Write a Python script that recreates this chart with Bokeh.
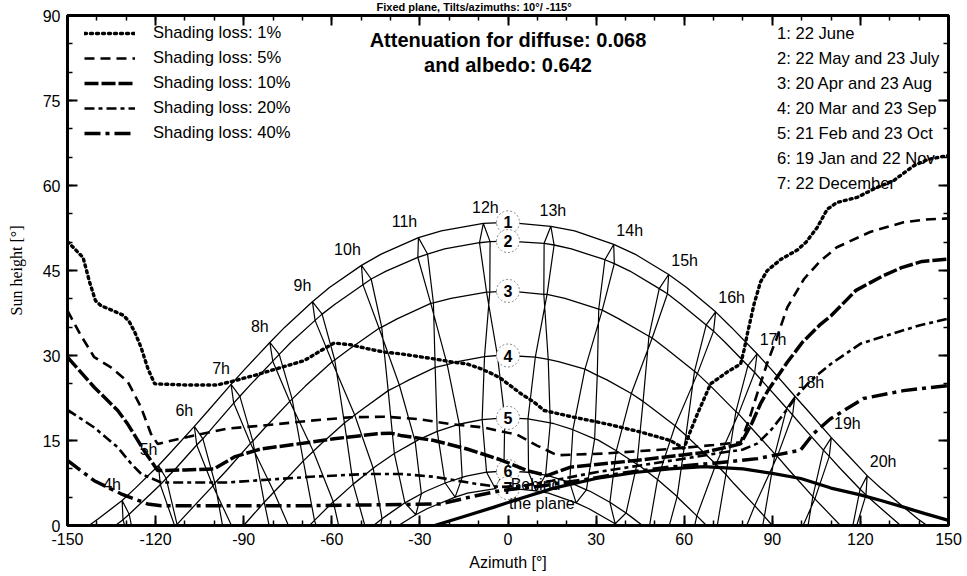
from bokeh.plotting import figure
from bokeh.models import (LinearAxis, Label, Legend, LegendItem, Range1d,
                          FixedTicker, ColumnDataSource)
from bokeh.core.properties import value
from bokeh.embed import file_html
from bokeh.resources import INLINE

FONT = "Liberation Sans"
SERIF = "Liberation Serif"

TITLE = "Fixed plane, Tilts/azimuths: 10°/ -115°"
DIFFUSE = 0.068
ALBEDO = 0.642

X_TICKS = [-150, -120, -90, -60, -30, 0, 30, 60, 90, 120, 150]
X_TICK_LABELS = ["-150", "-120", "-90", "-60", "-30", "0", "30", "60", "90", "120", "150"]
Y_TICKS = [0, 15, 30, 45, 60, 75, 90]
Y_TICK_LABELS = ["0", "15", "30", "45", "60", "75", "90"]

HOURS = list(range(4, 21))
HOUR_LABELS = ["%dh" % h for h in HOURS]

# sun position at each legal hour (4h ... 20h) on each date: azimuth [deg], height [deg]
JUN_AZ = [-131.4, -119.0, -106.8, -94.3, -81.1, -66.6, -49.9, -30.5, -8.4, 14.6, 36.0, 54.7, 70.7, 84.8, 97.7, 110.1, 122.3]
JUN_H = [4.4, 10.6, 17.5, 24.9, 32.3, 39.5, 45.9, 50.8, 53.3, 52.8, 49.6, 44.3, 37.7, 30.3, 22.8, 15.5, 8.8]
MAY_AZ = [-129.0, -116.4, -103.9, -91.3, -77.9, -63.3, -46.6, -27.4, -6.1, 15.7, 36.2, 54.3, 70.0, 84.0, 96.9, 109.4, 121.9]
MAY_H = [2.0, 8.3, 15.3, 22.8, 30.2, 37.3, 43.5, 47.9, 50.1, 49.5, 46.2, 40.9, 34.3, 27.0, 19.5, 12.2, 5.4]
JUL_AZ = [-131.1, -118.4, -106.0, -93.4, -80.1, -65.7, -49.4, -30.7, -9.7, 12.3, 33.0, 51.5, 67.5, 81.7, 94.9, 107.4, 119.9]
JUL_H = [1.0, 7.2, 14.2, 21.6, 29.0, 36.2, 42.5, 47.3, 49.9, 49.8, 46.9, 41.8, 35.4, 28.2, 20.7, 13.3, 6.4]
APR_AZ = [-125.8, -112.7, -99.8, -86.9, -73.5, -59.0, -43.0, -25.4, -6.2, 13.3, 32.1, 49.1, 64.5, 78.5, 91.7, 104.5, 117.4]
APR_H = [-6.3, 0.2, 7.5, 14.9, 22.3, 29.2, 35.0, 39.3, 41.2, 40.8, 38.0, 33.1, 26.8, 19.7, 12.2, 4.7, -2.3]
AUG_AZ = [-126.6, -113.4, -100.5, -87.7, -74.3, -59.9, -43.9, -26.3, -7.3, 12.2, 30.9, 48.0, 63.5, 77.6, 90.9, 103.8, 116.7]
AUG_H = [-6.7, -0.2, 7.0, 14.5, 21.9, 28.9, 34.8, 39.2, 41.2, 40.8, 38.2, 33.4, 27.2, 20.1, 12.6, 5.1, -1.9]
MAR_AZ = [-123.0, -109.1, -96.0, -83.0, -69.7, -55.7, -40.8, -24.8, -8.0, 9.3, 26.2, 42.0, 56.9, 70.8, 84.0, 97.0, 110.2]
MAR_H = [-17.6, -10.8, -3.5, 4.1, 11.4, 18.1, 23.8, 27.9, 29.8, 29.7, 27.6, 23.3, 17.6, 10.8, 3.5, -4.1, -11.4]
SEP_AZ = [-119.4, -105.8, -92.7, -79.7, -66.3, -52.2, -37.0, -20.7, -3.6, 13.7, 30.4, 46.0, 60.6, 74.2, 87.3, 100.3, 113.7]
SEP_H = [-15.9, -9.0, -1.6, 5.9, 13.1, 19.5, 24.8, 28.4, 30.0, 29.3, 26.5, 21.9, 15.9, 9.0, 1.6, -5.9, -13.1]
FEB_AZ = [-119.4, -105.1, -91.7, -78.8, -65.9, -52.7, -38.7, -24.1, -8.8, 6.8, 22.1, 36.9, 50.9, 64.3, 77.2, 90.1, 103.4]
FEB_H = [-28.1, -21.1, -13.7, -6.3, 0.9, 7.3, 12.7, 16.6, 18.7, 18.8, 16.9, 13.2, 8.1, 1.7, -5.3, -12.8, -20.2]
OCT_AZ = [-112.2, -98.4, -85.4, -72.5, -59.5, -45.9, -31.6, -16.6, -1.1, 14.4, 29.5, 43.9, 57.6, 70.7, 83.6, 96.6, 110.2]
OCT_H = [-24.7, -17.5, -10.0, -2.7, 4.2, 10.1, 14.8, 17.9, 19.0, 18.1, 15.3, 10.8, 5.1, -1.7, -9.0, -16.5, -23.8]
JAN_AZ = [-113.5, -99.1, -85.9, -73.4, -60.9, -48.2, -35.1, -21.4, -7.3, 7.0, 21.0, 34.7, 47.9, 60.6, 73.1, 85.6, 98.8]
JAN_H = [-36.0, -28.9, -21.4, -14.0, -7.1, -1.0, 4.0, 7.5, 9.4, 9.4, 7.6, 4.1, -0.9, -7.0, -13.9, -21.2, -28.7]
NOV_AZ = [-107.4, -93.6, -80.7, -68.2, -55.7, -42.9, -29.5, -15.6, -1.4, 12.8, 26.7, 40.2, 53.2, 65.8, 78.2, 91.0, 104.5]
NOV_H = [-33.1, -25.8, -18.3, -11.1, -4.5, 1.2, 5.6, 8.5, 9.6, 8.9, 6.3, 2.2, -3.3, -9.7, -16.8, -24.3, -31.7]
DEC_AZ = [-108.5, -94.5, -81.6, -69.2, -56.9, -44.4, -31.4, -18.0, -4.3, 9.6, 23.2, 36.5, 49.3, 61.7, 74.0, 86.5, 99.7]
DEC_H = [-37.2, -29.9, -22.4, -15.2, -8.5, -2.7, 1.9, 5.0, 6.5, 6.1, 4.0, 0.3, -4.8, -11.0, -17.9, -25.3, -32.8]

# extra sun-path points of the 7 date curves (between the hour marks)
PATH1_AZ = [-142.7, -139.5, -126.9, -114.5, -102.2, -89.6, -76.0, -60.8, -43.2, -22.7, 0.0, 22.7, 43.2, 60.8, 76.0, 89.6, 102.2, 114.5, 126.9, 139.5, 142.7]
PATH1_H = [0.0, 1.2, 6.6, 13.1, 20.2, 27.6, 35.0, 42.0, 47.9, 52.0, 53.5, 52.0, 47.9, 42.0, 35.0, 27.6, 20.2, 13.1, 6.6, 1.2, 0.0]
PATH2_AZ = [-138.4, -133.7, -125.5, -112.9, -100.4, -87.6, -74.0, -58.8, -41.5, -21.6, 0.0, 21.6, 41.5, 58.8, 74.0, 87.6, 100.4, 112.9, 125.5, 133.7, 138.4]
PATH2_H = [-1.9, 0.0, 3.7, 10.2, 17.4, 24.9, 32.3, 39.1, 44.9, 48.8, 50.2, 48.8, 44.9, 39.1, 32.3, 24.9, 17.4, 10.2, 3.7, 0.0, -1.9]
PATH3_AZ = [-121.6, -113.2, -108.6, -95.7, -82.7, -69.0, -54.1, -37.6, -19.4, 0.0, 19.4, 37.6, 54.1, 69.0, 82.7, 95.7, 108.6, 113.2, 121.6]
PATH3_H = [-4.3, 0.0, 2.5, 9.8, 17.3, 24.6, 31.1, 36.5, 40.1, 41.4, 40.1, 36.5, 31.1, 24.6, 17.3, 9.8, 2.5, 0.0, -4.3]
PATH4_AZ = [-116.6, -103.1, -90.0, -76.9, -63.4, -49.1, -33.7, -17.2, 0.0, 17.2, 33.7, 49.1, 63.4, 76.9, 90.0, 103.1, 116.6]
PATH4_H = [-14.5, -7.4, 0.0, 7.4, 14.5, 20.7, 25.7, 28.9, 30.0, 28.9, 25.7, 20.7, 14.5, 7.4, 0.0, -7.4, -14.5]
PATH5_AZ = [-84.5, -71.6, -67.6, -58.5, -44.9, -30.6, -15.5, 0.0, 15.5, 30.6, 44.9, 58.5, 67.6, 71.6, 84.5]
PATH5_H = [-9.5, -2.2, 0.0, 4.6, 10.5, 15.1, 18.0, 19.0, 18.0, 15.1, 10.5, 4.6, 0.0, -2.2, -9.5]
PATH6_AZ = [-67.0, -54.5, -45.8, -41.5, -28.1, -14.2, 0.0, 14.2, 28.1, 41.5, 45.8, 54.5, 67.0]
PATH6_H = [-10.4, -3.9, 0.0, 1.7, 6.0, 8.7, 9.6, 8.7, 6.0, 1.7, 0.0, -3.9, -10.4]
PATH7_AZ = [-53.1, -40.5, -37.3, -27.4, -13.8, 0.0, 13.8, 27.4, 37.3, 40.5, 53.1]
PATH7_H = [-6.6, -1.2, 0.0, 3.0, 5.7, 6.6, 5.7, 3.0, 0.0, -1.2, -6.6]

DATE_NUMBERS = ["1", "2", "3", "4", "5", "6", "7"]
DATE_LABELS = ["1: 22 June", "2: 22 May and 23 July", "3: 20 Apr and 23 Aug",
               "4: 20 Mar and 23 Sep", "5: 21 Feb and 23 Oct", "6: 19 Jan and 22 Nov",
               "7: 22 December"]

# iso-shading curves
ISO_LABELS = ["Shading loss: 1%", "Shading loss: 5%", "Shading loss: 10%",
              "Shading loss: 20%", "Shading loss: 40%"]
ISO1_AZ = [-150, -144.7, -142.5, -140.5, -138.6, -134.5, -131.0, -129.0, -127.0, -125.0, -122.5, -120.3, -110, -99, -94.2, -86.3, -78.5, -69.4, -62.6, -59.2, -53.6, -47.9, -42.2, -36.6, -25.2, -19.5, -13.9, -9.4, -5.5, -2.6, 1.0, 4.3, 8.8, 12.3, 22.5, 33.8, 45.1, 55.3, 59.9, 62.0, 64.5, 69.0, 74.7, 79.2, 80.4, 81.5, 83.8, 86.0, 88.3, 93.0, 98.5, 101.5, 105.3, 108.7, 112.0, 118.9, 125.0, 131.4, 138.2, 143.0, 150]
ISO1_H = [50.1, 47.3, 43.0, 39.7, 38.8, 37.9, 37.1, 36.0, 34.0, 31.5, 27.5, 25.0, 24.8, 24.8, 25.4, 26.5, 27.7, 29.1, 31.2, 32.2, 31.9, 31.2, 30.6, 30.3, 29.4, 28.9, 28.5, 27.7, 26.8, 26.0, 24.6, 23.3, 21.8, 20.3, 19.1, 17.9, 16.5, 15.0, 13.6, 16.5, 19.7, 25.0, 27.1, 28.5, 31.0, 33.8, 39.1, 43.0, 45.0, 47.0, 48.6, 50.0, 52.6, 55.8, 57.0, 57.9, 59.5, 60.9, 63.5, 64.6, 65.3]
ISO5_AZ = [-150, -145.4, -140.9, -135.2, -129.5, -125.0, -121.6, -119.3, -106.9, -95.5, -84.2, -67.2, -53.6, -42.2, -30.9, -19.6, -8.3, 3.2, 9.9, 16.7, 32.6, 55.3, 70.0, 79.2, 82.0, 85.0, 88.5, 91.6, 95.1, 100.8, 106.0, 112.0, 123.3, 134.7, 142.0, 150]
ISO5_H = [37.9, 33.5, 29.7, 27.9, 25.4, 20.9, 16.2, 14.4, 15.9, 17.1, 17.6, 18.5, 19.1, 19.2, 18.8, 17.9, 17.3, 16.0, 14.1, 12.4, 12.7, 13.5, 14.2, 14.7, 18.5, 23.5, 29.0, 33.2, 38.5, 43.5, 46.5, 49.1, 51.8, 53.5, 54.0, 54.2]
ISO10_AZ = [-150, -140.9, -132.9, -129.5, -123.9, -119.3, -110.0, -100.0, -93.2, -84.2, -67.2, -59.2, -44.5, -40.0, -36.6, -25.2, -13.9, -2.6, 6.5, 13.3, 21.3, 44.1, 66.8, 79.2, 83.0, 86.0, 88.5, 95.1, 100.2, 106.4, 110.0, 118.5, 127.5, 134.0, 141.0, 150]
ISO10_H = [29.7, 24.4, 20.3, 17.9, 13.2, 9.7, 9.8, 10.0, 12.1, 13.5, 14.7, 15.3, 16.2, 16.3, 15.9, 15.0, 13.5, 11.6, 9.7, 8.8, 10.3, 11.5, 12.9, 14.4, 18.0, 21.5, 23.8, 28.8, 32.3, 35.5, 37.0, 41.5, 44.0, 45.5, 46.6, 47.0]
ISO20_AZ = [-150, -140.9, -132.9, -128.3, -124.9, -118.1, -95.5, -67.2, -47.9, -36.6, -25.2, -11.5, -3.0, 5.0, 15.0, 30.0, 45.0, 60.0, 72.0, 80.0, 85.0, 89.5, 93.9, 98.4, 103.1, 109.9, 120.1, 132.5, 140.0, 150]
ISO20_H = [20.4, 17.3, 13.8, 10.9, 9.1, 7.6, 7.6, 8.6, 9.1, 9.1, 8.6, 7.4, 6.8, 7.0, 7.9, 9.4, 10.6, 11.8, 12.8, 13.4, 14.5, 16.8, 19.7, 22.9, 25.6, 28.5, 32.1, 34.1, 35.3, 36.5]
ISO40_AZ = [-150, -140.9, -131.8, -122.7, -118.1, -67.2, -36.6, -23.0, -10.5, -2.0, 10.0, 25.0, 40.0, 55.0, 70.0, 85.0, 92.8, 99.6, 104.0, 109.7, 121.0, 134.7, 150]
ISO40_H = [11.5, 7.9, 5.6, 3.8, 3.5, 3.5, 3.7, 3.8, 5.3, 6.2, 6.9, 8.0, 9.3, 10.3, 11.0, 11.8, 12.6, 13.3, 16.2, 18.8, 22.4, 23.8, 24.7]

# limit where the sun is behind the plane
BEHIND_AZ = [-25, -15, -5, 5, 15.6, 30, 44, 55, 66.7, 80, 90, 99.7, 110, 120, 127, 135, 142, 150]
BEHIND_H = [0, 1.6, 3.2, 4.9, 6.6, 8.3, 9.4, 10.0, 10.4, 10.0, 9.2, 8.3, 6.6, 5.4, 4.4, 3.2, 2.1, 0.9]

# ---------------------------------------------------------------- figure
p = figure(width=967, height=576, output_backend="svg", toolbar_location=None,
           x_range=Range1d(-150, 150), y_range=Range1d(0, 90),
           min_border_left=67, min_border_right=19, min_border_top=15,
           min_border_bottom=51, title=TITLE)
p.title.align = "left"
p.title.offset = 309
p.title.standoff = -3
p.title.text_font = FONT
p.title.text_font_size = "11px"
p.title.text_font_style = "bold"
p.title.text_color = "black"
p.background_fill_color = "white"
p.border_fill_color = "white"
p.grid.visible = False
p.outline_line_color = "black"
p.outline_line_width = 3

def style_axis(ax, ticks, minors, labels, show):
    ax.ticker = FixedTicker(ticks=ticks, minor_ticks=minors)
    ax.major_tick_in = 10
    ax.major_tick_out = 0
    ax.minor_tick_in = 5
    ax.minor_tick_out = 0
    ax.major_tick_line_width = 2
    ax.minor_tick_line_width = 1.5
    ax.major_tick_line_color = "black"
    ax.minor_tick_line_color = "black"
    ax.axis_line_color = None
    ax.major_label_text_color = "black"
    if show:
        ax.major_label_overrides = {t: l for t, l in zip(ticks, labels)}
        ax.major_label_text_font = FONT
        ax.major_label_text_font_size = "16px"
        ax.major_label_standoff = 7
    else:
        ax.major_label_overrides = {t: " " for t in ticks}
        ax.major_label_text_font_size = "1px"
        ax.major_label_standoff = 0

x_minor = list(range(-150, 151, 10))
y_minor = list(range(0, 91, 5))
style_axis(p.xaxis[0], X_TICKS, x_minor, X_TICK_LABELS, True)
style_axis(p.yaxis[0], Y_TICKS, y_minor, Y_TICK_LABELS, True)
for ax, lab_, fnt, sto in ((p.xaxis[0], "Azimuth [°]", FONT, 6),
                           (p.yaxis[0], "Sun height [°]", SERIF, 15)):
    ax.axis_label = lab_
    ax.axis_label_text_font = fnt
    ax.axis_label_text_font_size = "16px"
    ax.axis_label_text_font_style = "normal"
    ax.axis_label_text_color = "black"
    ax.axis_label_standoff = sto

top = LinearAxis()
style_axis(top, X_TICKS, x_minor, X_TICK_LABELS, False)
p.add_layout(top, "above")
right = LinearAxis()
style_axis(right, Y_TICKS, y_minor, Y_TICK_LABELS, False)
p.add_layout(right, "right")

# ---------------------------------------------------------------- date curves
months = {
    "jun": (JUN_AZ, JUN_H), "may": (MAY_AZ, MAY_H), "jul": (JUL_AZ, JUL_H),
    "apr": (APR_AZ, APR_H), "aug": (AUG_AZ, AUG_H), "mar": (MAR_AZ, MAR_H),
    "sep": (SEP_AZ, SEP_H), "feb": (FEB_AZ, FEB_H), "oct": (OCT_AZ, OCT_H),
    "jan": (JAN_AZ, JAN_H), "nov": (NOV_AZ, NOV_H), "dec": (DEC_AZ, DEC_H),
}
paths = [
    ((PATH1_AZ, PATH1_H), ["jun"]),
    ((PATH2_AZ, PATH2_H), ["may", "jul"]),
    ((PATH3_AZ, PATH3_H), ["apr", "aug"]),
    ((PATH4_AZ, PATH4_H), ["mar", "sep"]),
    ((PATH5_AZ, PATH5_H), ["feb", "oct"]),
    ((PATH6_AZ, PATH6_H), ["jan", "nov"]),
    ((PATH7_AZ, PATH7_H), ["dec"]),
]
noon_h = []
for (paz, ph), mlist in paths:
    pts = list(zip(paz, ph))
    for m in mlist:
        pts += list(zip(*months[m]))
    pts.sort(key=lambda t: t[0])
    p.line([t[0] for t in pts], [t[1] for t in pts], line_color="black", line_width=1.3)
    noon_h.append(ph[paz.index(0.0)])

# ---------------------------------------------------------------- hour loops
order = ["jun", "may", "apr", "mar", "feb", "jan", "dec", "nov", "oct", "sep", "aug", "jul", "jun"]
for i, hr in enumerate(HOURS):
    xs = [months[m][0][i] for m in order]
    ys = [months[m][1][i] for m in order]
    p.line(xs, ys, line_color="black", line_width=1.2)

# date number circles
p.scatter(x=[0] * 7, y=noon_h, size=23, marker="circle", fill_color="white",
          line_color="#888888", line_dash="2 2", line_width=1)
p.text(x=[0] * 7, y=noon_h, text=DATE_NUMBERS, text_font=value(FONT),
       text_font_size=value("16px"), text_font_style="bold",
       text_align="center", text_baseline="middle", text_color="black")

# hour labels near the 22 June positions
offx, offy = [], []
for hr in HOURS:
    if hr in (10, 11):
        offx.append(-14); offy.append(-16)
    elif hr < 12:
        offx.append(-10); offy.append(-16)
    elif hr in (12, 13):
        offx.append(2); offy.append(-16)
    else:
        offx.append(16); offy.append(-14)
src = ColumnDataSource(dict(x=JUN_AZ, y=JUN_H, t=HOUR_LABELS, ox=offx, oy=offy))
p.text(x="x", y="y", text="t", x_offset="ox", y_offset="oy", source=src,
       text_font=value(FONT), text_font_size=value("16px"),
       text_align="center", text_baseline="middle", text_color="black")

# ---------------------------------------------------------------- iso shading curves
iso_styles = [
    dict(line_width=3.4, line_dash="2 4", line_cap="round"),
    dict(line_width=2.6, line_dash="10 6"),
    dict(line_width=3.5, line_dash="14 3"),
    dict(line_width=2.6, line_dash="10 4 4 4"),
    dict(line_width=3.5, line_dash="16 5 4 5"),
]
iso_data = [(ISO1_AZ, ISO1_H), (ISO5_AZ, ISO5_H), (ISO10_AZ, ISO10_H),
            (ISO20_AZ, ISO20_H), (ISO40_AZ, ISO40_H)]
iso_r = []
for (az, h), st in zip(iso_data, iso_styles):
    iso_r.append(p.line(az, h, line_color="black", **st))

p.line(BEHIND_AZ, BEHIND_H, line_color="black", line_width=3.2)

legend = Legend(items=[LegendItem(label=l, renderers=[r]) for l, r in zip(ISO_LABELS, iso_r)],
                location=(17, 382), orientation="vertical",
                border_line_color=None, background_fill_alpha=0,
                label_text_font=FONT, label_text_font_size="16.6px", label_text_color="black",
                glyph_width=51, glyph_height=20, label_height=20,
                label_standoff=18, spacing=5, padding=0, margin=0)
p.add_layout(legend)

# ---------------------------------------------------------------- texts
def lab(x, y, text, size="16.6px", style="normal", align="left"):
    p.add_layout(Label(x=x, y=y, text=text, text_font=FONT, text_font_size=size,
                       text_font_style=style, text_align=align, text_baseline="middle",
                       text_color="black"))

lab(0, 85.6, "Attenuation for diffuse: %s" % DIFFUSE, "20px", "bold", "center")
lab(0, 81.35, "and albedo: %s" % ALBEDO, "20px", "bold", "center")
for k, t in enumerate(DATE_LABELS):
    lab(91.6, (525 - (33 + 25 * k)) / 5.667, t)
lab(0.9, 7.2, "Behind", "16px")
lab(0.3, 3.9, "the plane", "16px")

open("out.html", "w").write(file_html(p, INLINE))
